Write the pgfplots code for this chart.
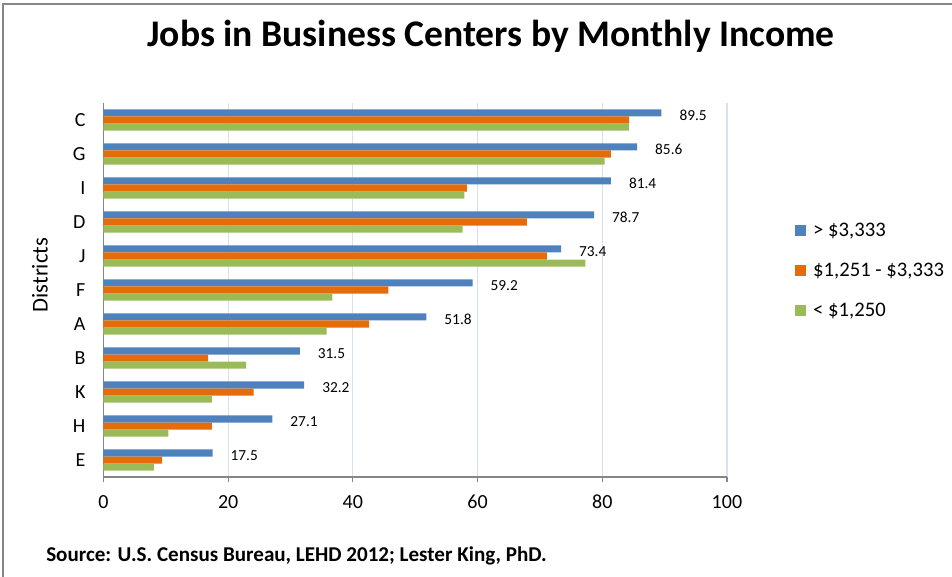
\documentclass[border=0pt]{standalone}
\usepackage{pgfplots}
\pgfplotsset{compat=1.18}
\usepackage{fontspec}
\setmainfont{Carlito}
\definecolor{cblue}{HTML}{4F81BD}
\definecolor{corange}{HTML}{E46C0A}
\definecolor{cgreen}{HTML}{9BBB59}
\definecolor{cgrid}{HTML}{D9E1EC}
\definecolor{caxis}{HTML}{868686}
\begin{document}
\begin{tikzpicture}
\path[use as bounding box] (0pt,0pt) rectangle (714pt,-432.75pt);
\draw[caxis, line width=1.2pt] (2.25pt,-432.75pt) -- (2.25pt,-3pt) -- (714pt,-3pt);
\node[font=\fontsize{28.2}{32}\selectfont\bfseries] at (368.25pt,-27pt) {Jobs in Business Centers by Monthly Income};
\node[font=\fontsize{15.8}{18}\selectfont\bfseries, anchor=west, inner sep=0pt] at (34.5pt,-417pt) {Source: U.S. Census Bureau, LEHD 2012; Lester King, PhD.};
\begin{axis}[
  at={(77.6pt,-357.75pt)}, anchor=south west,
  scale only axis, width=467.6pt, height=280.5pt,
  xbar,
  xmin=0, xmax=100, ymin=-0.5, ymax=10.5,
  axis x line*=bottom, axis y line*=left,
  axis line style={caxis, line width=0.9pt, -},
  xtick={0,20,...,100},
  ytick={0,...,10},
  yticklabels={E,H,K,B,A,F,J,D,I,G,C},
  xmajorgrids, grid style={cgrid, line width=0.9pt},
  x tick style={caxis, line width=0.9pt},
  tick align=outside, major tick length=4pt,
  y tick style={draw=none},
  /pgf/number format/assume math mode=true,
  tick label style={font=\fontsize{15}{18}\selectfont},
  xticklabel style={yshift=-6pt},
  yticklabel style={xshift=-6pt},
  ylabel={Districts},
  ylabel style={font=\fontsize{17}{20}\selectfont, at={(axis description cs:-0.102,0.54)}, anchor=center},
  legend style={at={(axis description cs:1.108,0.552)}, anchor=west, draw=none, fill=none,
    font=\fontsize{15.5}{18}\selectfont, row sep=14.5pt, inner sep=0pt},
  legend cell align=left,
  legend image code/.code={\fill[#1,draw=none] (0pt,-4.1pt) rectangle (8.25pt,4.1pt);
    \path (0pt,0pt) -- (12pt,0pt);},
]
\addplot[fill=cblue, draw=none, bar width=0.206, bar shift=0.206, point meta=x,
  nodes near coords={\pgfmathprintnumber[fixed,fixed zerofill,precision=1]{\pgfplotspointmeta}},
  every node near coord/.append style={font=\fontsize{11.5}{13}\selectfont, xshift=10pt, yshift=-2pt, black}]
  coordinates {(17.5,0) (27.1,1) (32.2,2) (31.5,3) (51.8,4) (59.2,5) (73.4,6) (78.7,7) (81.4,8) (85.6,9) (89.5,10)};
\addlegendentry{> \$3,333}
\addplot[fill=corange, draw=none, bar width=0.206, bar shift=0]
  coordinates {(9.4,0) (17.4,1) (24.1,2) (16.8,3) (42.6,4) (45.7,5) (71.1,6) (67.9,7) (58.3,8) (81.4,9) (84.3,10)};
\addlegendentry{\$1,251 - \$3,333}
\addplot[fill=cgreen, draw=none, bar width=0.206, bar shift=-0.206]
  coordinates {(8.1,0) (10.4,1) (17.4,2) (22.9,3) (35.8,4) (36.7,5) (77.3,6) (57.6,7) (57.9,8) (80.4,9) (84.3,10)};
\addlegendentry{< \$1,250}
\end{axis}
\end{tikzpicture}
\end{document}
